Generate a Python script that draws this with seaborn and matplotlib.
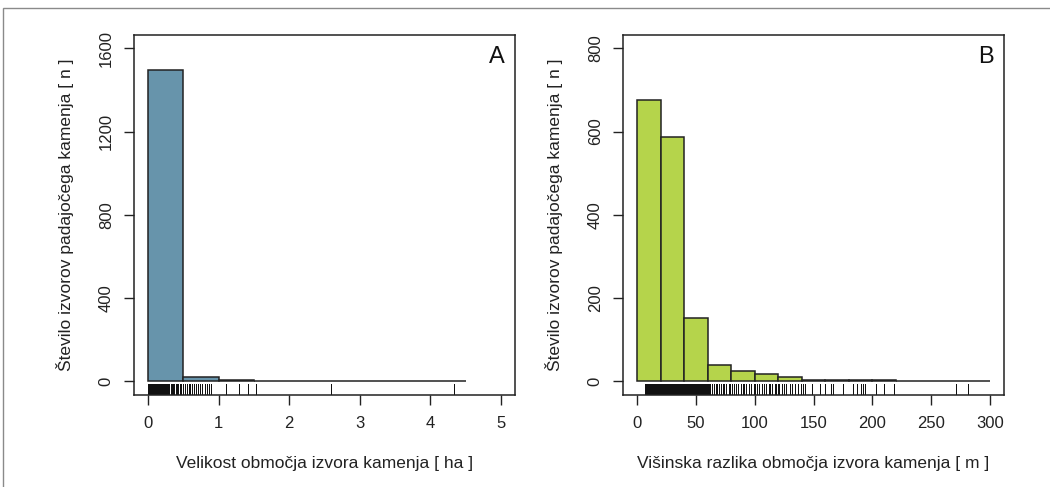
import numpy as np
import pandas as pd
import matplotlib
matplotlib.use("Agg")
import matplotlib.pyplot as plt
import seaborn as sns
from matplotlib.patches import Rectangle

# ---- data ----
edges_a = [0.0, 0.5, 1.0, 1.5, 2.0, 2.5, 3.0, 3.5, 4.0, 4.5]
counts_a = [1495, 20, 5, 1, 0, 1, 0, 0, 1]
rug_a = [0.000, 0.005, 0.010, 0.015, 0.020, 0.025, 0.030, 0.035, 0.040,
         0.045, 0.050, 0.055, 0.060, 0.065, 0.070, 0.075, 0.080, 0.085,
         0.090, 0.095, 0.100, 0.105, 0.110, 0.115, 0.120, 0.125, 0.130,
         0.135, 0.140, 0.145, 0.150, 0.155, 0.160, 0.165, 0.170, 0.175,
         0.180, 0.185, 0.190, 0.195, 0.200, 0.205, 0.210, 0.215, 0.220,
         0.225, 0.230, 0.235, 0.240, 0.245, 0.250, 0.255, 0.260, 0.265,
         0.270, 0.275, 0.280, 0.285, 0.290, 0.295, 0.300,
         0.32, 0.335, 0.35, 0.37, 0.39, 0.41, 0.43, 0.45, 0.47, 0.50,
         0.52, 0.55, 0.58, 0.60, 0.62, 0.65, 0.68, 0.71, 0.74, 0.77,
         0.80, 0.83, 0.86, 0.89, 1.11, 1.29, 1.42, 1.53, 2.59, 4.33]

edges_b = [0, 20, 40, 60, 80, 100, 120, 140, 160, 180, 200, 220, 240, 260, 280, 300]
counts_b = [675, 588, 153, 40, 24, 18, 10, 3, 3, 3, 2, 0, 0, 1, 1]
rug_b = [7, 7.5, 8, 8.5, 9, 9.5, 10, 10.5, 11, 11.5, 12, 12.5, 13, 13.5,
         14, 14.5, 15, 15.5, 16, 16.5, 17, 17.5, 18, 18.5, 19, 19.5, 20,
         20.5, 21, 21.5, 22, 22.5, 23, 23.5, 24, 24.5, 25, 25.5, 26, 26.5,
         27, 27.5, 28, 28.5, 29, 29.5, 30, 30.5, 31, 31.5, 32, 32.5, 33,
         33.5, 34, 34.5, 35, 35.5, 36, 36.5, 37, 37.5, 38, 38.5, 39, 39.5,
         40, 40.5, 41, 41.5, 42, 42.5, 43, 43.5, 44, 44.5, 45, 45.5, 46,
         46.5, 47, 47.5, 48, 48.5, 49, 49.5, 50, 50.5, 51, 51.5, 52, 52.5,
         53, 53.5, 54, 54.5, 55, 55.5, 56, 56.5, 57, 57.5, 58, 58.5, 59,
         59.5, 60, 61, 62, 64, 65, 67, 68, 70, 71, 73, 74, 76, 78, 79, 81,
         82, 84, 86, 88, 90, 91, 93, 95, 97, 99, 100, 102, 104, 106, 108,
         110, 112, 113, 115, 117, 118, 120, 121, 123, 125, 127, 130, 132,
         134, 137, 139, 141, 143, 149, 155.5, 160, 164.6, 166.6, 175, 184,
         187, 190, 192, 194, 202.8, 210, 218.6, 271.6, 281]

xlabel_a = "Velikost območja izvora kamenja [ ha ]"
xlabel_b = "Višinska razlika območja izvora kamenja [ m ]"
ylabel = "Število izvorov padajočega kamenja [ n ]"
xticks_a = [0, 1, 2, 3, 4, 5]
yticks_a = [0, 400, 800, 1200, 1600]
xticks_b = [0, 50, 100, 150, 200, 250, 300]
yticks_b = [0, 200, 400, 600, 800]

col_a = "#6794AB"
col_b = "#B5D44B"

sns.set_style("ticks")
plt.rcParams["font.family"] = ["Liberation Sans", "DejaVu Sans"]

W, H = 1050, 487
fig = plt.figure(figsize=(W / 100, H / 100), dpi=100)

def ax_rect(l, r, t, b):
    return [l / W, 1 - b / H, (r - l) / W, (b - t) / H]

ax1 = fig.add_axes(ax_rect(134, 515, 35, 394.5))
ax2 = fig.add_axes(ax_rect(623, 1004, 35, 394.5))

def panel(ax, edges, counts, rug, color, xlim, ylim, xticks, yticks, xlabel, letter):
    centers = [(edges[i] + edges[i + 1]) / 2 for i in range(len(counts))]
    df = pd.DataFrame({"x": centers, "w": counts})
    sns.histplot(data=df, x="x", weights="w", bins=edges, ax=ax,
                 color=color, alpha=1, edgecolor="#222222", linewidth=1.1)
    sns.rugplot(x=rug, ax=ax, height=0.03, color="#111111", linewidth=0.7,
                expand_margins=False, antialiased=False)
    ax.set_xlim(*xlim)
    ax.set_ylim(*ylim)
    ax.set_xticks(xticks)
    ax.set_yticks(yticks)
    ax.set_xticklabels([str(v) for v in xticks])
    ax.set_yticklabels([str(v) for v in yticks], rotation=90, va="center")
    ax.tick_params(axis="both", length=7.5, width=1.0, color="#222222",
                   labelsize=12, labelcolor="#222222")
    ax.tick_params(axis="x", pad=8)
    ax.tick_params(axis="y", pad=7)
    for s in ax.spines.values():
        s.set_linewidth(1.1)
        s.set_color("#222222")
        s.set_visible(True)
    ax.set_xlabel(xlabel, fontsize=12.5, color="#222222", labelpad=18)
    ax.set_ylabel(ylabel, fontsize=12.5, color="#222222", labelpad=18)
    ax.text(0.953, 0.94, letter, transform=ax.transAxes, fontsize=17,
            ha="center", va="center", color="#111111")

panel(ax1, edges_a, counts_a, rug_a, col_a, (-0.2, 5.2), (-64, 1664),
      xticks_a, yticks_a, xlabel_a, "A")
panel(ax2, edges_b, counts_b, rug_b, col_b, (-12, 312), (-32, 832),
      xticks_b, yticks_b, xlabel_b, "B")

# outer frame
fig.patches.append(Rectangle((3 / W, -0.1), 1.2, 1.1 - 8 / H,
                             transform=fig.transFigure, fill=False,
                             edgecolor="#8a8a8a", linewidth=1.0))

fig.savefig("out.png", dpi=100)
